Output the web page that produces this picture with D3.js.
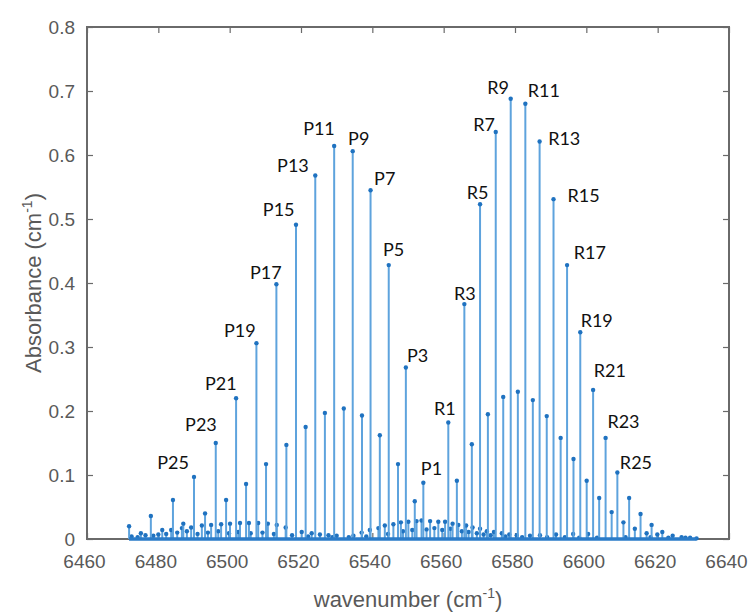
<!DOCTYPE html>
<html>
<head>
<meta charset="utf-8">
<script src="https://cdn.jsdelivr.net/npm/d3@7"></script>
<style>
  html, body { margin: 0; padding: 0; background: #ffffff; }
  svg { display: block; }
</style>
</head>
<body>
<svg id="chart" width="750" height="613"></svg>
<script>
// ---------------- data ----------------
// main band, P branch (P31 ... P1)
const mainPWn  = [6471.8, 6477.9, 6484.1, 6490.0, 6496.1, 6501.8, 6507.5, 6513.1, 6518.6, 6524.0, 6529.3, 6534.5, 6539.5, 6544.6, 6549.4, 6554.3];
const mainPAbs = [0.020, 0.036, 0.061, 0.097, 0.150, 0.220, 0.306, 0.398, 0.491, 0.568, 0.614, 0.606, 0.545, 0.428, 0.268, 0.088];
// main band, R branch (R1 ... R39)
const mainRWn  = [6561.3, 6565.8, 6570.2, 6574.6, 6578.8, 6582.9, 6586.9, 6590.8, 6594.6, 6598.3, 6601.9, 6605.4, 6608.7, 6612.0, 6615.2, 6618.3, 6621.3, 6624.2, 6626.7, 6629.1];
const mainRAbs = [0.182, 0.367, 0.523, 0.636, 0.688, 0.680, 0.621, 0.531, 0.428, 0.323, 0.233, 0.158, 0.104, 0.064, 0.039, 0.022, 0.011, 0.005, 0.003, 0.002];
// second (weaker) band
const hotWn  = [6475.1, 6481.1, 6487.0, 6493.1, 6499.0, 6504.6, 6510.2, 6515.9, 6521.3, 6526.7, 6532.0, 6537.1, 6542.1, 6547.2, 6551.9,
                6563.7, 6567.9, 6572.4, 6576.7, 6580.8, 6585.0, 6588.9, 6592.8, 6596.4, 6600.1, 6603.6, 6607.1, 6610.4, 6613.6, 6616.9, 6619.9];
const hotAbs = [0.009, 0.014, 0.024, 0.040, 0.061, 0.086, 0.117, 0.147, 0.175, 0.197, 0.204, 0.193, 0.162, 0.117, 0.059,
                0.091, 0.148, 0.195, 0.222, 0.230, 0.217, 0.192, 0.158, 0.125, 0.091, 0.064, 0.042, 0.026, 0.016, 0.009, 0.007];
// third, very weak band
const weakWn  = [6483.6, 6486.6, 6489.2, 6492.2, 6494.8, 6497.6, 6500.1, 6502.9, 6505.4, 6508.0, 6510.7, 6513.2, 6515.7, 6520.2, 6523.0, 6525.3, 6527.7, 6530.0,
                 6534.7, 6537.0, 6539.3, 6541.7, 6543.5, 6545.9, 6548.0, 6550.1, 6552.4, 6553.8, 6556.2, 6558.5, 6560.4, 6562.5, 6564.1, 6566.3, 6568.1,
                 6570.2, 6572.1, 6574.1, 6576.3, 6578.4, 6580.5, 6584.2, 6587.0, 6591.5, 6596.3, 6600.5];
const weakAbs = [0.014, 0.017, 0.018, 0.021, 0.022, 0.023, 0.024, 0.025, 0.025, 0.025, 0.024, 0.022, 0.018, 0.011, 0.009, 0.007, 0.006, 0.005,
                 0.005, 0.010, 0.014, 0.017, 0.021, 0.023, 0.026, 0.027, 0.028, 0.029, 0.028, 0.027, 0.027, 0.024, 0.022, 0.021, 0.018,
                 0.016, 0.012, 0.011, 0.009, 0.007, 0.006, 0.005, 0.006, 0.007, 0.008, 0.008];
// baseline-level lines
const tinyWn  = [6472.5, 6474.2, 6476.4, 6478.6, 6480.0, 6482.2, 6485.3, 6488.0, 6491.0, 6493.9, 6496.8, 6499.8, 6502.4, 6505.9, 6509.2, 6512.4,
                 6517.5, 6522.0, 6528.8, 6533.4, 6538.3, 6544.4, 6548.6, 6551.2, 6555.2, 6557.4, 6559.6, 6561.9, 6565.1, 6567.0, 6569.3, 6571.2,
                 6573.2, 6577.3, 6582.0, 6589.0, 6594.0, 6598.0, 6603.0, 6611.0, 6618.0, 6623.0, 6627.8, 6630.9];
const tinyAbs = [0.004, 0.003, 0.006, 0.005, 0.007, 0.008, 0.010, 0.012, 0.008, 0.010, 0.012, 0.009, 0.011, 0.009, 0.010, 0.008,
                 0.006, 0.004, 0.003, 0.003, 0.004, 0.008, 0.012, 0.014, 0.015, 0.017, 0.014, 0.016, 0.012, 0.011, 0.009, 0.007,
                 0.006, 0.004, 0.003, 0.003, 0.003, 0.002, 0.002, 0.003, 0.003, 0.002, 0.002, 0.001];

// line labels (text, anchor wavenumber, anchor absorbance)
const labelText = ["P25","P23","P21","P19","P17","P15","P13","P11","P9","P7","P5","P3","P1",
                   "R1","R3","R5","R7","R9","R11","R13","R15","R17","R19","R21","R23","R25"];
const labelWn   = [6479.7, 6487.5, 6493.1, 6498.4, 6505.7, 6509.3, 6513.3, 6520.6, 6533.2, 6540.5, 6543.0, 6549.7, 6553.6,
                   6557.3, 6562.9, 6566.5, 6568.3, 6572.2, 6583.6, 6589.3, 6594.7, 6596.5, 6598.4, 6602.1, 6605.9, 6609.4];
const labelAbs  = [0.109, 0.169, 0.233, 0.316, 0.406, 0.505, 0.574, 0.631, 0.616, 0.553, 0.442, 0.277, 0.100,
                   0.194, 0.373, 0.531, 0.6375, 0.695, 0.691, 0.616, 0.527, 0.4375, 0.332, 0.253, 0.174, 0.109];

const xTicks = [6460, 6480, 6500, 6520, 6540, 6560, 6580, 6600, 6620, 6640];
const yTicks = [0, 0.1, 0.2, 0.3, 0.4, 0.5, 0.6, 0.7, 0.8];

// ---------------- chart ----------------
const svg = d3.select("#chart");
const L = 87, R = 729, T = 27, B = 539;
const x = d3.scaleLinear().domain([6460, 6640]).range([L, R]);
const y = d3.scaleLinear().domain([0, 0.8]).range([B, T]);

const axisColor = "#6a6a6a";
const textColor = "#595959";
const tickFont = "Liberation Sans, Arial, Helvetica, sans-serif";

// bottom axis (ticks inward)
const gx = svg.append("g").attr("transform", `translate(0,${B})`)
  .call(d3.axisBottom(x).tickValues(xTicks).tickSize(-6).tickPadding(16).tickFormat(d3.format("d")));
gx.select(".domain").remove();
gx.selectAll("line").attr("stroke", axisColor).attr("stroke-width", 1.2);
gx.selectAll("text").attr("fill", textColor).attr("font-size", 19).attr("font-family", tickFont).attr("dx", -3);

// top axis ticks
const gxt = svg.append("g").attr("transform", `translate(0,${T})`)
  .call(d3.axisTop(x).tickValues(xTicks).tickSize(-6).tickFormat(""));
gxt.select(".domain").remove();
gxt.selectAll("line").attr("stroke", axisColor).attr("stroke-width", 1.2);

// left axis
const gy = svg.append("g").attr("transform", `translate(${L},0)`)
  .call(d3.axisLeft(y).tickValues(yTicks).tickSize(-6).tickPadding(12).tickFormat(d => d === 0 ? "0" : d3.format(".1f")(d)));
gy.select(".domain").remove();
gy.selectAll("line").attr("stroke", axisColor).attr("stroke-width", 1.2);
gy.selectAll("text").attr("fill", textColor).attr("font-size", 19).attr("font-family", tickFont);

// right axis ticks
const gyr = svg.append("g").attr("transform", `translate(${R},0)`)
  .call(d3.axisRight(y).tickValues(yTicks).tickSize(-6).tickFormat(""));
gyr.select(".domain").remove();
gyr.selectAll("line").attr("stroke", axisColor).attr("stroke-width", 1.2);

// box
svg.append("rect").attr("x", L).attr("y", T).attr("width", R - L).attr("height", B - T)
  .attr("fill", "none").attr("stroke", axisColor).attr("stroke-width", 2);

// stems
const stemColor = "#5ea3dd";
const markColor = "#1f72c0";
function stems(wn, ab, cls) {
  const data = wn.map((w, i) => ({ w, a: ab[i] }));
  const g = svg.append("g").attr("class", cls);
  g.selectAll("line").data(data).join("line")
    .attr("x1", d => x(d.w)).attr("x2", d => x(d.w))
    .attr("y1", y(0)).attr("y2", d => y(d.a))
    .attr("stroke", stemColor).attr("stroke-width", 2);
  g.selectAll("circle").data(data).join("circle")
    .attr("cx", d => x(d.w)).attr("cy", d => y(d.a)).attr("r", 2.2)
    .attr("fill", markColor);
}
stems(tinyWn, tinyAbs, "tiny");
stems(weakWn, weakAbs, "weak");
stems(hotWn, hotAbs, "hot");
stems(mainPWn, mainPAbs, "mainP");
stems(mainRWn, mainRAbs, "mainR");

// stem baseline over the data range
const allWn = mainPWn.concat(mainRWn, hotWn, weakWn, tinyWn);
svg.append("line")
  .attr("x1", x(d3.min(allWn))).attr("x2", x(d3.max(allWn)))
  .attr("y1", y(0)).attr("y2", y(0))
  .attr("stroke", "#2a7bc8").attr("stroke-width", 3.5);

// line labels
svg.append("g").selectAll("text").data(labelText).join("text")
  .attr("x", (d, i) => x(labelWn[i])).attr("y", (d, i) => y(labelAbs[i]))
  .attr("font-family", "Lato, 'Open Sans', sans-serif").attr("font-size", 18)
  .attr("fill", "#111").text(d => d);

// axis labels
const xl = svg.append("text").attr("x", 408).attr("y", 607).attr("text-anchor", "middle")
  .attr("font-family", tickFont).attr("font-size", 22).attr("fill", textColor);
xl.append("tspan").text("wavenumber (cm");
xl.append("tspan").attr("dy", -9).attr("font-size", 14).text("-1");
xl.append("tspan").attr("dy", 9).text(")");

const yl = svg.append("text").attr("transform", "translate(41,283) rotate(-90)").attr("text-anchor", "middle")
  .attr("font-family", tickFont).attr("font-size", 22).attr("fill", textColor);
yl.append("tspan").text("Absorbance (cm");
yl.append("tspan").attr("dy", -9).attr("font-size", 14).text("-1");
yl.append("tspan").attr("dy", 9).text(")");
</script>
</body>
</html>
